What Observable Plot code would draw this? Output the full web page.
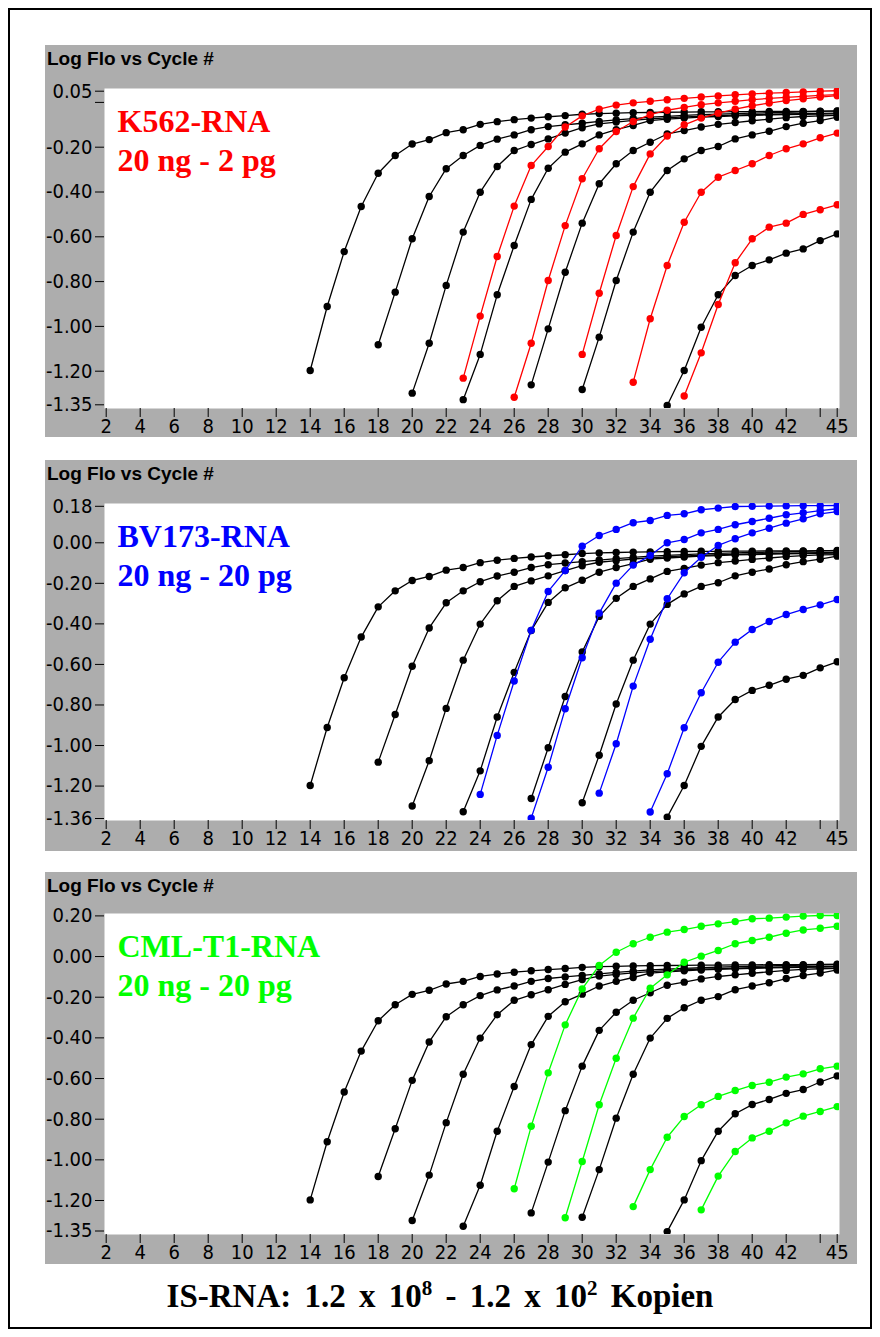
<!DOCTYPE html>
<html><head><meta charset="utf-8">
<script src="https://cdn.jsdelivr.net/npm/d3@7"></script>
<script src="https://cdn.jsdelivr.net/npm/@observablehq/plot@0.6"></script>
<style>
body{margin:0;background:#fff;}
#page{position:relative;width:880px;height:1337px;overflow:hidden;}
#border{position:absolute;left:8px;top:8px;width:864px;height:1321px;border:2px solid #000;box-sizing:border-box;}
.panel{position:absolute;left:45px;}
.panel svg{display:block;}
.ptitle{position:absolute;left:2px;top:4px;font-weight:bold;font-size:19px;font-family:Arial,"Liberation Sans",sans-serif;line-height:19px;color:#000;white-space:nowrap;}
#caption{position:absolute;left:0;width:880px;top:1280px;text-align:center;font-family:"Liberation Serif","Times New Roman",serif;font-weight:bold;font-size:33px;line-height:33px;word-spacing:5px;}
#caption sup{font-size:21px;line-height:0;}
</style></head>
<body><div id="page"><div id="border"></div></div>
<script>
// ---------- data ----------
const xTicks = [2,4,6,8,10,12,14,16,18,20,22,24,26,28,30,32,34,36,38,40,42,44,45];
const yTicksK562 = [0.05,0.00,-0.20,-0.40,-0.60,-0.80,-1.00,-1.20,-1.35];
const yTicksBV173 = [0.18,0.00,-0.20,-0.40,-0.60,-0.80,-1.00,-1.20,-1.36];
const yTicksCML = [0.20,0.00,-0.20,-0.40,-0.60,-0.80,-1.00,-1.20,-1.35];
const unlabeledY = [0.00]; // only in the K562 panel: tick without label

// IS-RNA standard curves (black), first cycle + log fluorescence per cycle
const isStarts = [14,18,20,23,27,30,35];
const is1 = [-1.197,-0.911,-0.666,-0.465,-0.316,-0.237,-0.186,-0.166,-0.135,-0.122,-0.098,-0.086,-0.077,-0.070,-0.064,-0.059,-0.053,-0.050,-0.048,-0.046,-0.045,-0.044,-0.043,-0.042,-0.042,-0.041,-0.041,-0.040,-0.040,-0.040,-0.039,-0.039];
const is2 = [-1.082,-0.847,-0.609,-0.420,-0.296,-0.237,-0.192,-0.164,-0.145,-0.122,-0.108,-0.100,-0.093,-0.085,-0.078,-0.072,-0.066,-0.062,-0.058,-0.055,-0.052,-0.050,-0.048,-0.046,-0.044,-0.042,-0.040,-0.038];
const is3 = [-1.298,-1.075,-0.817,-0.579,-0.401,-0.286,-0.215,-0.188,-0.163,-0.137,-0.113,-0.096,-0.088,-0.080,-0.074,-0.069,-0.065,-0.062,-0.059,-0.057,-0.055,-0.053,-0.051,-0.050,-0.049,-0.048];
const is4 = [-1.327,-1.125,-0.859,-0.639,-0.433,-0.294,-0.222,-0.185,-0.145,-0.122,-0.103,-0.081,-0.075,-0.070,-0.066,-0.063,-0.060,-0.058,-0.056,-0.054,-0.053,-0.052,-0.051];
const is5 = [-1.261,-1.011,-0.758,-0.539,-0.363,-0.274,-0.215,-0.178,-0.141,-0.126,-0.110,-0.098,-0.090,-0.082,-0.075,-0.068,-0.063,-0.060,-0.058];
const is6 = [-1.282,-1.048,-0.795,-0.579,-0.401,-0.304,-0.252,-0.215,-0.197,-0.163,-0.145,-0.129,-0.108,-0.093,-0.081,-0.066];
const is7 = [-1.353,-1.197,-1.004,-0.859,-0.773,-0.728,-0.703,-0.673,-0.654,-0.617,-0.587];

// K562-RNA (red)
const k562Starts = [23,26,30,33,36];
const k1 = [-1.231,-0.954,-0.688,-0.463,-0.282,-0.197,-0.110,-0.060,-0.030,-0.012,-0.002,0.005,0.012,0.018,0.024,0.029,0.034,0.038,0.041,0.044,0.047,0.050,0.052];
const k2 = [-1.316,-1.075,-0.795,-0.550,-0.341,-0.207,-0.130,-0.085,-0.055,-0.035,-0.022,-0.010,-0.002,0.005,0.012,0.018,0.022,0.027,0.031,0.035];
const k3 = [-1.125,-0.852,-0.594,-0.376,-0.230,-0.150,-0.100,-0.070,-0.048,-0.030,-0.015,-0.003,0.008,0.016,0.024,0.030];
const k4 = [-1.249,-0.966,-0.728,-0.535,-0.401,-0.334,-0.304,-0.274,-0.237,-0.207,-0.185,-0.158,-0.137];
const k5 = [-1.311,-1.118,-0.902,-0.716,-0.609,-0.557,-0.539,-0.500,-0.479,-0.457];

// BV173-RNA (blue)
const bvStarts = [24,27,31,34];
const b1 = [-1.241,-0.950,-0.682,-0.432,-0.240,-0.137,-0.017,0.036,0.066,0.099,0.110,0.135,0.143,0.163,0.171,0.179,0.180,0.181,0.182,0.183,0.183,0.184];
const b2 = [-1.358,-1.107,-0.819,-0.567,-0.347,-0.199,-0.110,-0.063,0.000,0.016,0.049,0.066,0.089,0.105,0.121,0.138,0.148,0.159,0.168];
const b3 = [-1.235,-0.991,-0.707,-0.476,-0.276,-0.148,-0.071,-0.013,0.020,0.049,0.072,0.097,0.118,0.143,0.154];
const b4 = [-1.328,-1.139,-0.912,-0.740,-0.589,-0.490,-0.428,-0.388,-0.354,-0.329,-0.306,-0.280];

// CML-T1-RNA (green)
const cmlStarts = [26,29,33,37];
const g1 = [-1.142,-0.835,-0.572,-0.336,-0.159,-0.044,0.021,0.063,0.095,0.120,0.133,0.149,0.161,0.172,0.186,0.189,0.194,0.199,0.202,0.202];
const g2 = [-1.285,-1.008,-0.729,-0.500,-0.303,-0.156,-0.090,-0.028,0.002,0.030,0.063,0.079,0.095,0.115,0.131,0.139,0.149];
const g3 = [-1.230,-1.048,-0.889,-0.787,-0.729,-0.688,-0.659,-0.634,-0.618,-0.593,-0.577,-0.552,-0.539];
const g4 = [-1.246,-1.080,-0.959,-0.892,-0.859,-0.818,-0.785,-0.762,-0.738];

const panelTitle = "Log Flo vs Cycle #";
const labels = ["K562-RNA\n20 ng - 2 pg", "BV173-RNA\n20 ng - 20 pg", "CML-T1-RNA\n20 ng - 20 pg"];
const colors = ["#ff0000", "#0000ff", "#00ff00"];
const captionParts = ["IS-RNA: 1.2 x 10", "8", " - 1.2 x 10", "2", " Kopien"];

// ---------- build ----------
function toRows(starts, series) {
  const rows = [];
  series.forEach((vals, i) => vals.forEach((v, j) => rows.push({curve: i, cycle: starts[i] + j, value: v})));
  return rows;
}
const isRows = toRows(isStarts, [is1,is2,is3,is4,is5,is6,is7]);
const sampleRows = [
  toRows(k562Starts, [k1,k2,k3,k4,k5]),
  toRows(bvStarts, [b1,b2,b3,b4]),
  toRows(cmlStarts, [g1,g2,g3,g4])
];
const yTicksAll = [yTicksK562, yTicksBV173, yTicksCML];
const panelTops = [45, 460, 872];
const panelH = [392, 391, 392];
const yDomains = [[-1.35, 0.05], [-1.36, 0.18], [-1.35, 0.20]];
const yRanges = [[359.3, 45.7], [358, 45.8], [358.5, 43.4]];
const mTop = [43, 43, 41];
const mBottom = [29, 31, 30];

const page = document.getElementById("page");
for (let p = 0; p < 3; p++) {
  const wrap = document.createElement("div");
  wrap.className = "panel";
  wrap.style.top = panelTops[p] + "px";
  const svg = Plot.plot({
    width: 812, height: panelH[p],
    marginTop: mTop[p], marginLeft: 59, marginRight: 18, marginBottom: mBottom[p],
    style: {background: "#adadad", fontFamily: "'Liberation Sans Narrow','DejaVu Sans Condensed',sans-serif", fontSize: "20px", color: "#000", overflow: "visible"},
    x: {domain: [2, 45], range: [60.7, 791.7]},
    y: {domain: yDomains[p], range: yRanges[p]},
    marks: [
      Plot.frame({fill: "white"}),
      Plot.axisX({ticks: xTicks, tickFormat: d => d === 44 ? "" : String(d), tickSize: 9, tickPadding: 1, label: null, stroke: "#000"}),
      Plot.axisY({ticks: yTicksAll[p].filter(v => !(p === 0 && unlabeledY.includes(v))), tickFormat: d => d.toFixed(2), tickSize: 9, tickPadding: 3, label: null}),
      p === 0 ? Plot.axisY({ticks: unlabeledY, tickFormat: () => "", tickSize: 9, label: null}) : null,
      Plot.line(isRows, {x: "cycle", y: "value", z: "curve", stroke: "#000", strokeWidth: 1.3, clip: "frame"}),
      Plot.dot(isRows, {x: "cycle", y: "value", fill: "#000", r: 3.7, clip: "frame"}),
      Plot.line(sampleRows[p], {x: "cycle", y: "value", z: "curve", stroke: colors[p], strokeWidth: 1.3, clip: "frame"}),
      Plot.dot(sampleRows[p], {x: "cycle", y: "value", fill: colors[p], r: 3.7, clip: "frame"}),
      Plot.text([labels[p]], {frameAnchor: "top-left", text: d => d, dx: 13, dy: 16, lineAnchor: "top", lineHeight: 1.21,
        fill: colors[p], fontSize: 32, fontWeight: "bold", fontFamily: "'Liberation Serif','Times New Roman',serif"})
    ]
  });
  wrap.appendChild(svg);
  const t = document.createElement("div");
  t.className = "ptitle";
  t.textContent = panelTitle;
  wrap.appendChild(t);
  page.appendChild(wrap);
}
const cap = document.createElement("div");
cap.id = "caption";
cap.innerHTML = captionParts[0] + "<sup>" + captionParts[1] + "</sup>" + captionParts[2] + "<sup>" + captionParts[3] + "</sup>" + captionParts[4];
page.appendChild(cap);
</script>
</body></html>
